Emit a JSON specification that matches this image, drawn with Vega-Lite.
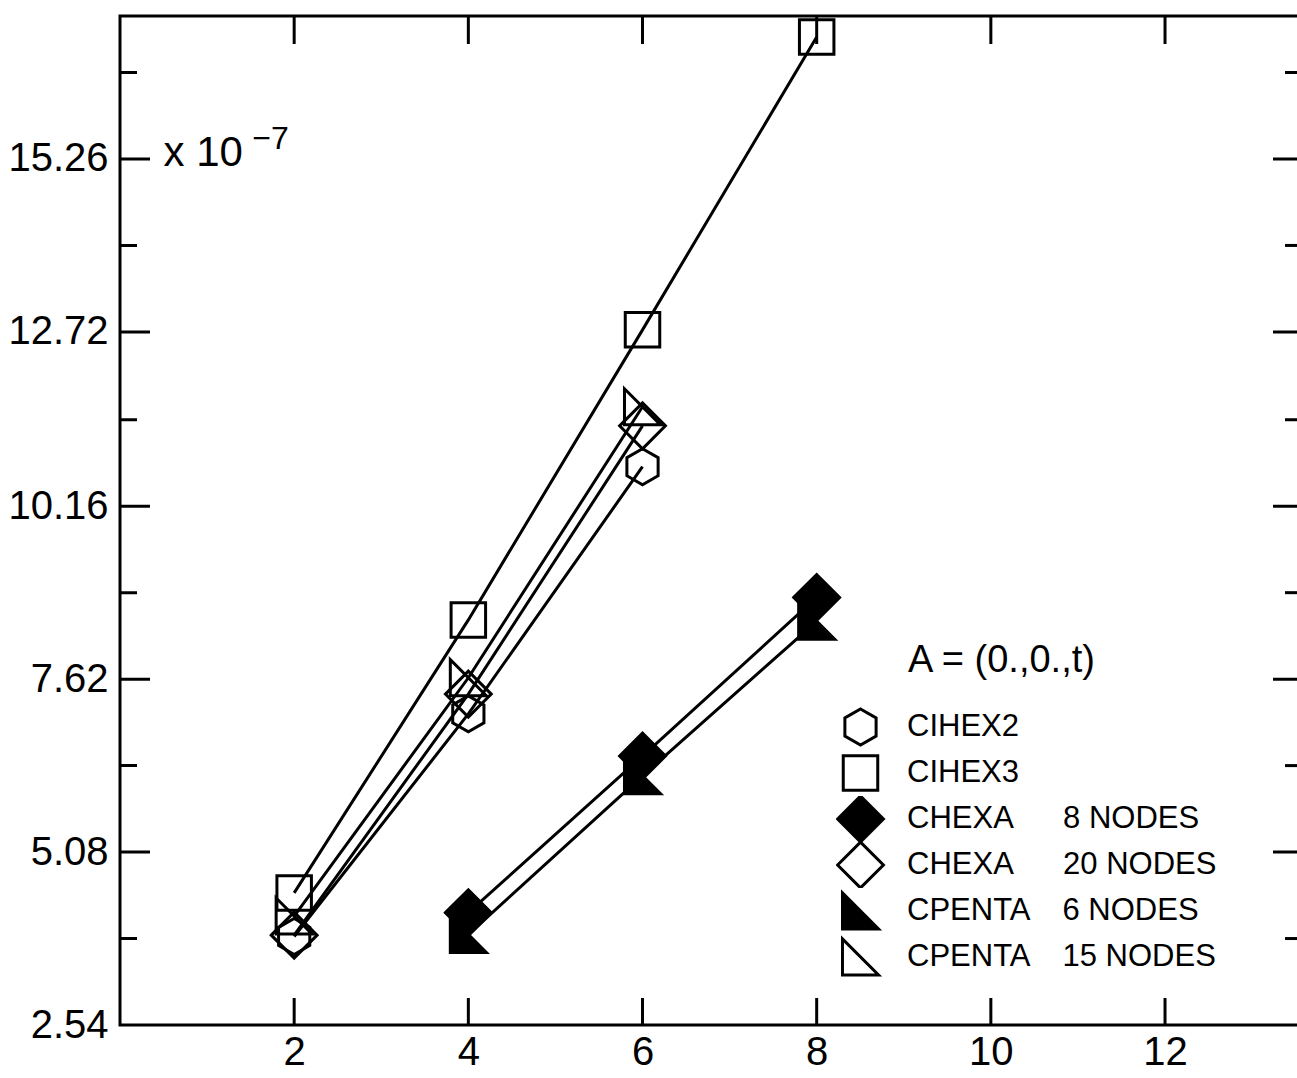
{
  "$schema": "https://vega.github.io/schema/vega-lite/v6.json",
  "width": 1180,
  "height": 1009,
  "autosize": {"type": "none"},
  "padding": {"left": 120, "top": 16, "right": 0, "bottom": 53},
  "background": "white",
  "config": {
    "view": {"stroke": "black", "strokeWidth": 3},
    "font": "Liberation Sans"
  },
  "datasets": {
    "pts": [
      {"series": "CIHEX2", "t": 2, "v": 3.84},
      {"series": "CIHEX2", "t": 4, "v": 7.11},
      {"series": "CIHEX2", "t": 6, "v": 10.74},
      {"series": "CIHEX3", "t": 2, "v": 4.48},
      {"series": "CIHEX3", "t": 4, "v": 8.49},
      {"series": "CIHEX3", "t": 6, "v": 12.75},
      {"series": "CIHEX3", "t": 8, "v": 17.05},
      {"series": "CHEXA 8 NODES", "t": 4, "v": 4.19},
      {"series": "CHEXA 8 NODES", "t": 6, "v": 6.49},
      {"series": "CHEXA 8 NODES", "t": 8, "v": 8.82},
      {"series": "CHEXA 20 NODES", "t": 2, "v": 3.86},
      {"series": "CHEXA 20 NODES", "t": 4, "v": 7.40},
      {"series": "CHEXA 20 NODES", "t": 6, "v": 11.34},
      {"series": "CPENTA 6 NODES", "t": 4, "v": 3.87},
      {"series": "CPENTA 6 NODES", "t": 6, "v": 6.20},
      {"series": "CPENTA 6 NODES", "t": 8, "v": 8.47},
      {"series": "CPENTA 15 NODES", "t": 2, "v": 4.14},
      {"series": "CPENTA 15 NODES", "t": 4, "v": 7.64},
      {"series": "CPENTA 15 NODES", "t": 6, "v": 11.62}
    ],
    "yticks": [
      {"v": 3.81, "kind": "minor"},
      {"v": 5.08, "kind": "major"},
      {"v": 6.35, "kind": "minor"},
      {"v": 7.62, "kind": "major"},
      {"v": 8.89, "kind": "minor"},
      {"v": 10.16, "kind": "major"},
      {"v": 11.43, "kind": "minor"},
      {"v": 12.72, "kind": "major"},
      {"v": 13.99, "kind": "minor"},
      {"v": 15.26, "kind": "major"},
      {"v": 16.53, "kind": "minor"}
    ],
    "xticks": [
      {"t": 2}, {"t": 4}, {"t": 6}, {"t": 8}, {"t": 10}, {"t": 12}
    ]
  },
  "layer": [
    {
      "data": {"name": "pts"},
      "mark": {"type": "line", "color": "black", "strokeWidth": 3},
      "encoding": {
        "x": {"field": "t", "type": "quantitative",
              "scale": {"domain": [0, 13.55], "nice": false, "zero": false},
              "axis": {"values": [2, 4, 6, 8, 10, 12], "ticks": false, "domain": false, "grid": false, "title": null,
                       "labelFont": "Liberation Sans", "labelFontSize": 40, "labelColor": "black", "labelPadding": 7}},
        "y": {"field": "v", "type": "quantitative",
              "scale": {"domain": [2.54, 17.36], "nice": false, "zero": false},
              "axis": {"values": [2.54, 5.08, 7.62, 10.16, 12.72, 15.26], "format": ".2f", "ticks": false, "domain": false, "grid": false, "title": null,
                       "labelFont": "Liberation Sans", "labelFontSize": 40, "labelColor": "black", "labelPadding": 12}},
        "detail": {"field": "series", "type": "nominal"}
      }
    },
    {
      "data": {"name": "pts"},
      "mark": {"type": "point", "filled": true, "stroke": "black", "strokeWidth": 3, "opacity": 1},
      "encoding": {
        "x": {"field": "t", "type": "quantitative",
              "scale": {"domain": [0, 13.55], "nice": false, "zero": false},
              "axis": {"values": [2, 4, 6, 8, 10, 12], "ticks": false, "domain": false, "grid": false, "title": null,
                       "labelFont": "Liberation Sans", "labelFontSize": 40, "labelColor": "black", "labelPadding": 7}},
        "y": {"field": "v", "type": "quantitative",
              "scale": {"domain": [2.54, 17.36], "nice": false, "zero": false},
              "axis": {"values": [2.54, 5.08, 7.62, 10.16, 12.72, 15.26], "format": ".2f", "ticks": false, "domain": false, "grid": false, "title": null,
                       "labelFont": "Liberation Sans", "labelFontSize": 40, "labelColor": "black", "labelPadding": 12}},
        "shape": {
          "field": "series", "type": "nominal",
          "scale": {
            "domain": ["CIHEX2", "CIHEX3", "CHEXA 8 NODES", "CHEXA 20 NODES", "CPENTA 6 NODES", "CPENTA 15 NODES"],
            "range": ["M0,-1L0.866,-0.5L0.866,0.5L0,1L-0.866,0.5L-0.866,-0.5Z", "square", "diamond", "diamond", "M-1,-1L-1,1L1,1Z", "M-1,-1L-1,1L1,1Z"]
          },
          "legend": {
            "orient": "none", "legendX": 716, "legendY": 626,
            "title": "A = (0.,0.,t)", "titleLimit": 800,
            "titleFont": "Liberation Sans", "titleFontSize": 38, "titleFontWeight": "normal", "titleColor": "black", "titlePadding": 24,
            "labelFont": "Liberation Sans", "labelFontSize": 31, "labelColor": "black", "labelLimit": 600, "labelOffset": 22,
            "clipHeight": 46, "rowPadding": 0, "symbolStrokeColor": "black", "symbolStrokeWidth": 3, "symbolOpacity": 1,
            "labelExpr": "replace(replace(datum.label, 'CHEXA ', 'CHEXA\u00a0\u00a0\u00a0\u00a0\u00a0\u2009'), 'CPENTA ', 'CPENTA\u00a0\u00a0\u00a0\u2009')",
            "encode": {
              "symbols": {"update": {"stroke": {"value": "black"}, "strokeWidth": {"value": 3}, "opacity": {"value": 1}}},
              "title": {"update": {"dx": {"value": 72}}}
            }
          }
        },
        "fill": {
          "field": "series", "type": "nominal",
          "scale": {
            "domain": ["CIHEX2", "CIHEX3", "CHEXA 8 NODES", "CHEXA 20 NODES", "CPENTA 6 NODES", "CPENTA 15 NODES"],
            "range": ["transparent", "transparent", "black", "transparent", "black", "transparent"]
          },
          "legend": {
            "orient": "none", "legendX": 716, "legendY": 626,
            "title": "A = (0.,0.,t)", "titleLimit": 800,
            "titleFont": "Liberation Sans", "titleFontSize": 38, "titleFontWeight": "normal", "titleColor": "black", "titlePadding": 24,
            "labelFont": "Liberation Sans", "labelFontSize": 31, "labelColor": "black", "labelLimit": 600, "labelOffset": 22,
            "clipHeight": 46, "rowPadding": 0, "symbolStrokeColor": "black", "symbolStrokeWidth": 3, "symbolOpacity": 1,
            "labelExpr": "replace(replace(datum.label, 'CHEXA ', 'CHEXA\u00a0\u00a0\u00a0\u00a0\u00a0\u2009'), 'CPENTA ', 'CPENTA\u00a0\u00a0\u00a0\u2009')",
            "encode": {
              "symbols": {"update": {"stroke": {"value": "black"}, "strokeWidth": {"value": 3}, "opacity": {"value": 1}}},
              "title": {"update": {"dx": {"value": 72}}}
            }
          }
        },
        "size": {
          "field": "series", "type": "nominal",
          "scale": {
            "type": "ordinal",
            "domain": ["CIHEX2", "CIHEX3", "CHEXA 8 NODES", "CHEXA 20 NODES", "CPENTA 6 NODES", "CPENTA 15 NODES"],
            "range": [1300, 1190, 2100, 2100, 1300, 1300]
          },
          "legend": {
            "orient": "none", "legendX": 716, "legendY": 626,
            "title": "A = (0.,0.,t)", "titleLimit": 800,
            "titleFont": "Liberation Sans", "titleFontSize": 38, "titleFontWeight": "normal", "titleColor": "black", "titlePadding": 24,
            "labelFont": "Liberation Sans", "labelFontSize": 31, "labelColor": "black", "labelLimit": 600, "labelOffset": 22,
            "clipHeight": 46, "rowPadding": 0, "symbolStrokeColor": "black", "symbolStrokeWidth": 3, "symbolOpacity": 1,
            "labelExpr": "replace(replace(datum.label, 'CHEXA ', 'CHEXA\u00a0\u00a0\u00a0\u00a0\u00a0\u2009'), 'CPENTA ', 'CPENTA\u00a0\u00a0\u00a0\u2009')",
            "encode": {
              "symbols": {"update": {"stroke": {"value": "black"}, "strokeWidth": {"value": 3}, "opacity": {"value": 1}}},
              "title": {"update": {"dx": {"value": 72}}}
            }
          }
        }
      }
    },
    {
      "data": {"name": "yticks"},
      "mark": {"type": "tick", "orient": "horizontal", "color": "black", "thickness": 3, "opacity": 1, "clip": true},
      "encoding": {
        "x": {"datum": 0, "type": "quantitative",
              "scale": {"domain": [0, 13.55], "nice": false, "zero": false},
              "axis": {"values": [2, 4, 6, 8, 10, 12], "ticks": false, "domain": false, "grid": false, "title": null,
                       "labelFont": "Liberation Sans", "labelFontSize": 40, "labelColor": "black", "labelPadding": 7}},
        "y": {"field": "v", "type": "quantitative",
              "scale": {"domain": [2.54, 17.36], "nice": false, "zero": false},
              "axis": {"values": [2.54, 5.08, 7.62, 10.16, 12.72, 15.26], "format": ".2f", "ticks": false, "domain": false, "grid": false, "title": null,
                       "labelFont": "Liberation Sans", "labelFontSize": 40, "labelColor": "black", "labelPadding": 12}},
        "size": {"condition": {"test": "datum.kind === 'major'", "value": 60}, "value": 34}
      }
    },
    {
      "data": {"name": "yticks"},
      "mark": {"type": "tick", "orient": "horizontal", "color": "black", "thickness": 3, "opacity": 1, "clip": true},
      "encoding": {
        "x": {"datum": 13.55, "type": "quantitative",
              "scale": {"domain": [0, 13.55], "nice": false, "zero": false},
              "axis": {"values": [2, 4, 6, 8, 10, 12], "ticks": false, "domain": false, "grid": false, "title": null,
                       "labelFont": "Liberation Sans", "labelFontSize": 40, "labelColor": "black", "labelPadding": 7}},
        "y": {"field": "v", "type": "quantitative",
              "scale": {"domain": [2.54, 17.36], "nice": false, "zero": false},
              "axis": {"values": [2.54, 5.08, 7.62, 10.16, 12.72, 15.26], "format": ".2f", "ticks": false, "domain": false, "grid": false, "title": null,
                       "labelFont": "Liberation Sans", "labelFontSize": 40, "labelColor": "black", "labelPadding": 12}},
        "size": {"condition": {"test": "datum.kind === 'major'", "value": 54}, "value": 30}
      }
    },
    {
      "data": {"name": "xticks"},
      "mark": {"type": "tick", "orient": "vertical", "color": "black", "thickness": 3, "opacity": 1, "clip": true, "size": 54},
      "encoding": {
        "x": {"field": "t", "type": "quantitative",
              "scale": {"domain": [0, 13.55], "nice": false, "zero": false},
              "axis": {"values": [2, 4, 6, 8, 10, 12], "ticks": false, "domain": false, "grid": false, "title": null,
                       "labelFont": "Liberation Sans", "labelFontSize": 40, "labelColor": "black", "labelPadding": 7}},
        "y": {"datum": 2.54, "type": "quantitative",
              "scale": {"domain": [2.54, 17.36], "nice": false, "zero": false},
              "axis": {"values": [2.54, 5.08, 7.62, 10.16, 12.72, 15.26], "format": ".2f", "ticks": false, "domain": false, "grid": false, "title": null,
                       "labelFont": "Liberation Sans", "labelFontSize": 40, "labelColor": "black", "labelPadding": 12}}
      }
    },
    {
      "data": {"name": "xticks"},
      "mark": {"type": "tick", "orient": "vertical", "color": "black", "thickness": 3, "opacity": 1, "clip": true, "size": 56},
      "encoding": {
        "x": {"field": "t", "type": "quantitative",
              "scale": {"domain": [0, 13.55], "nice": false, "zero": false},
              "axis": {"values": [2, 4, 6, 8, 10, 12], "ticks": false, "domain": false, "grid": false, "title": null,
                       "labelFont": "Liberation Sans", "labelFontSize": 40, "labelColor": "black", "labelPadding": 7}},
        "y": {"datum": 17.36, "type": "quantitative",
              "scale": {"domain": [2.54, 17.36], "nice": false, "zero": false},
              "axis": {"values": [2.54, 5.08, 7.62, 10.16, 12.72, 15.26], "format": ".2f", "ticks": false, "domain": false, "grid": false, "title": null,
                       "labelFont": "Liberation Sans", "labelFontSize": 40, "labelColor": "black", "labelPadding": 12}}
      }
    },
    {
      "data": {"values": [{}]},
      "mark": {"type": "text", "text": "x 10", "align": "left", "baseline": "alphabetic", "fontSize": 42, "font": "Liberation Sans", "color": "black"},
      "encoding": {
        "x": {"datum": 0.5, "type": "quantitative",
              "scale": {"domain": [0, 13.55], "nice": false, "zero": false},
              "axis": {"values": [2, 4, 6, 8, 10, 12], "ticks": false, "domain": false, "grid": false, "title": null,
                       "labelFont": "Liberation Sans", "labelFontSize": 40, "labelColor": "black", "labelPadding": 7}},
        "y": {"datum": 15.16, "type": "quantitative",
              "scale": {"domain": [2.54, 17.36], "nice": false, "zero": false},
              "axis": {"values": [2.54, 5.08, 7.62, 10.16, 12.72, 15.26], "format": ".2f", "ticks": false, "domain": false, "grid": false, "title": null,
                       "labelFont": "Liberation Sans", "labelFontSize": 40, "labelColor": "black", "labelPadding": 12}}
      }
    },
    {
      "data": {"values": [{}]},
      "mark": {"type": "text", "text": "\u22127", "align": "left", "baseline": "alphabetic", "fontSize": 32, "font": "Liberation Sans", "color": "black"},
      "encoding": {
        "x": {"datum": 1.52, "type": "quantitative",
              "scale": {"domain": [0, 13.55], "nice": false, "zero": false},
              "axis": {"values": [2, 4, 6, 8, 10, 12], "ticks": false, "domain": false, "grid": false, "title": null,
                       "labelFont": "Liberation Sans", "labelFontSize": 40, "labelColor": "black", "labelPadding": 7}},
        "y": {"datum": 15.4, "type": "quantitative",
              "scale": {"domain": [2.54, 17.36], "nice": false, "zero": false},
              "axis": {"values": [2.54, 5.08, 7.62, 10.16, 12.72, 15.26], "format": ".2f", "ticks": false, "domain": false, "grid": false, "title": null,
                       "labelFont": "Liberation Sans", "labelFontSize": 40, "labelColor": "black", "labelPadding": 12}}
      }
    }
  ]
}
